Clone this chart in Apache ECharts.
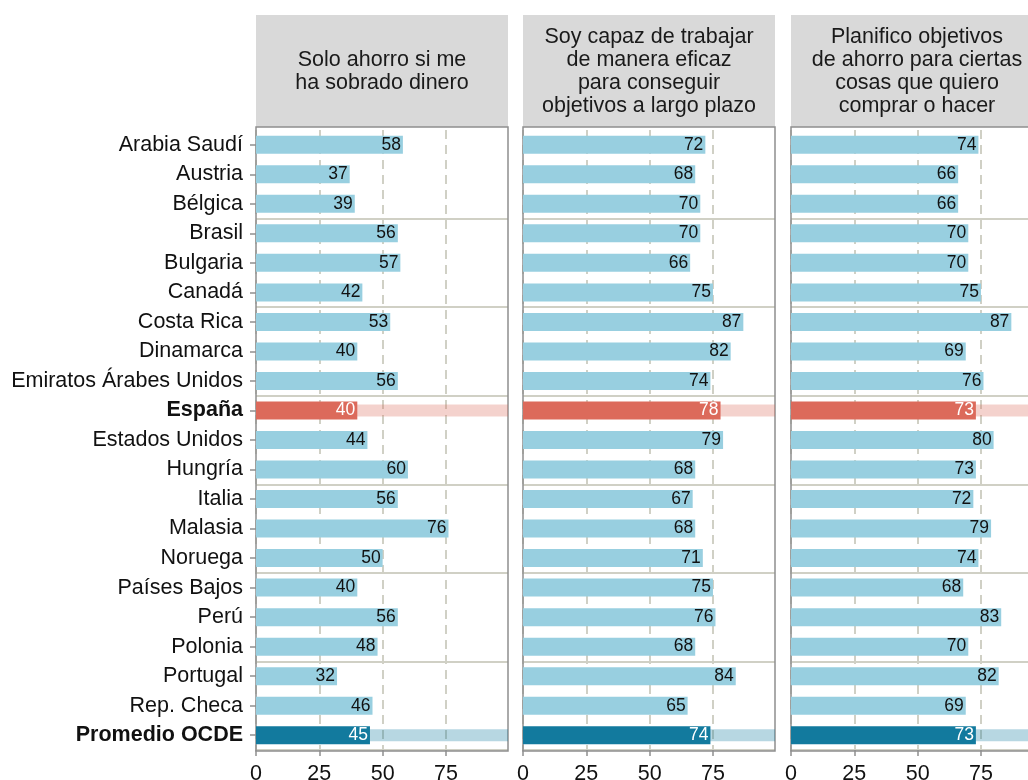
<!DOCTYPE html>
<html lang="es">
<head>
<meta charset="utf-8">
<title>Hábitos de ahorro</title>
<script src="https://cdn.jsdelivr.net/npm/echarts@6/dist/echarts.min.js"></script>
<style>
  html, body { margin: 0; padding: 0; background: #fff; }
  #chart { width: 1028px; height: 780px; }
</style>
</head>
<body>
<div id="chart"></div>
<script>
// Datos (porcentaje de estudiantes que están de acuerdo)
const paises = [
  'Arabia Saudí', 'Austria', 'Bélgica', 'Brasil', 'Bulgaria', 'Canadá',
  'Costa Rica', 'Dinamarca', 'Emiratos Árabes Unidos', 'España',
  'Estados Unidos', 'Hungría', 'Italia', 'Malasia', 'Noruega',
  'Países Bajos', 'Perú', 'Polonia', 'Portugal', 'Rep. Checa', 'Promedio OCDE'
];
const soloAhorro = [58, 37, 39, 56, 57, 42, 53, 40, 56, 40, 44, 60, 56, 76, 50, 40, 56, 48, 32, 46, 45];
const capazTrabajar = [72, 68, 70, 70, 66, 75, 87, 82, 74, 78, 79, 68, 67, 68, 71, 75, 76, 68, 84, 65, 74];
const planifico = [74, 66, 66, 70, 70, 75, 87, 69, 76, 73, 80, 73, 72, 79, 74, 68, 83, 70, 82, 69, 73];

const titulosPanel = [
  'Solo ahorro si me\nha sobrado dinero',
  'Soy capaz de trabajar\nde manera eficaz\npara conseguir\nobjetivos a largo plazo',
  'Planifico objetivos\nde ahorro para ciertas\ncosas que quiero\ncomprar o hacer'
];
const ticksX = [0, 25, 50, 75];
// filas resaltadas
const destacados = ['España', 'Promedio OCDE'];

// estilos
const FUENTE = '"Liberation Sans", Arial, sans-serif';
const colorBase = '#98cfe0';
const colorDestacado = { 'España': '#dc6a5b', 'Promedio OCDE': '#127a9e' };
const colorFranja = { 'España': 'rgba(220,106,91,0.3)', 'Promedio OCDE': 'rgba(18,122,158,0.3)' };
const colorRejilla = '#d0d0c5';
const colorMarco = '#8f8f8f';

// maquetación de los tres paneles (el último queda cortado por el lienzo)
const paneles = [soloAhorro, capazTrabajar, planifico];
const izquierda = [256, 523, 791];
const ancho = 252;
const arriba = 130;
const alto = 620;
const maxX = 99.5;

const grids = [];
const xAxes = [];
const yAxes = [];
const series = [];
const graficos = [];

paneles.forEach((valores, i) => {
  grids.push({
    left: izquierda[i], top: arriba, width: ancho, height: alto,
    containLabel: false, outerBoundsMode: 'none'
  });

  xAxes.push({
    type: 'value', gridIndex: i, min: 0, max: maxX, interval: 25,
    axisLine: { show: false },
    axisTick: { show: true, length: 6, customValues: ticksX, lineStyle: { color: colorMarco, width: 1.5 } },
    axisLabel: {
      customValues: ticksX, fontSize: 21.5, color: '#111', fontFamily: FUENTE, margin: 13,
      formatter: (v) => (v % 25 === 0 ? String(v) : '')
    },
    splitLine: { show: true, lineStyle: { color: colorRejilla, width: 2, type: [9, 6] } }
  });

  // eje principal de categorías (solo el primero lleva etiquetas)
  yAxes.push({
    type: 'category', gridIndex: i, data: paises, inverse: true,
    axisLine: { show: false },
    axisTick: { show: i === 0, length: 6, alignWithLabel: true, lineStyle: { color: colorMarco, width: 1.5 } },
    axisLabel: {
      show: i === 0, fontSize: 21.5, color: '#111', fontFamily: FUENTE, margin: 13,
      formatter: (v) => (destacados.includes(v) ? '{b|' + v + '}' : v),
      rich: { b: { fontWeight: 'bold', fontSize: 21.5, color: '#111', fontFamily: FUENTE } }
    },
    splitLine: {
      show: true,
      interval: (idx) => idx > 0 && idx < paises.length && idx % 3 === 0,
      lineStyle: { color: colorRejilla, width: 2 }
    }
  });
  // eje oculto para la franja de fondo de las filas resaltadas
  yAxes.push({
    type: 'category', gridIndex: i, data: paises, inverse: true, show: false
  });

  series.push({
    type: 'bar', xAxisIndex: i, yAxisIndex: 2 * i + 1, barWidth: 12, silent: true,
    data: paises.map((p) => destacados.includes(p)
      ? { value: maxX, itemStyle: { color: colorFranja[p] } }
      : '-')
  });

  series.push({
    type: 'bar', xAxisIndex: i, yAxisIndex: 2 * i, barWidth: 18,
    data: valores.map((v, k) => {
      const p = paises[k];
      const resaltado = destacados.includes(p);
      return {
        value: v,
        itemStyle: { color: resaltado ? colorDestacado[p] : colorBase },
        label: { color: resaltado ? '#fff' : '#111' }
      };
    }),
    label: {
      show: true, position: 'insideRight', distance: 2,
      fontSize: 17.5, fontFamily: FUENTE
    }
  });

  // cabecera gris del panel
  graficos.push({
    type: 'rect', shape: { x: izquierda[i], y: 15, width: ancho, height: 112 },
    style: { fill: '#d9d9d9' }, silent: true
  });
  graficos.push({
    type: 'text', x: izquierda[i] + ancho / 2, y: 72, silent: true,
    style: {
      text: titulosPanel[i], fill: '#1a1a1a', fontSize: 21.5, fontFamily: FUENTE,
      lineHeight: 23, align: 'center', verticalAlign: 'middle'
    }
  });
  // marco del panel
  graficos.push({
    type: 'rect', z: 1, silent: true,
    shape: { x: izquierda[i], y: 127, width: ancho, height: 624 },
    style: { fill: null, stroke: colorMarco, lineWidth: 1.5 }
  });
});

const chart = echarts.init(document.getElementById('chart'));
chart.setOption({
  animation: false,
  backgroundColor: '#fff',
  textStyle: { fontFamily: FUENTE },
  grid: grids,
  xAxis: xAxes,
  yAxis: yAxes,
  series: series,
  graphic: graficos
});
</script>
</body>
</html>
